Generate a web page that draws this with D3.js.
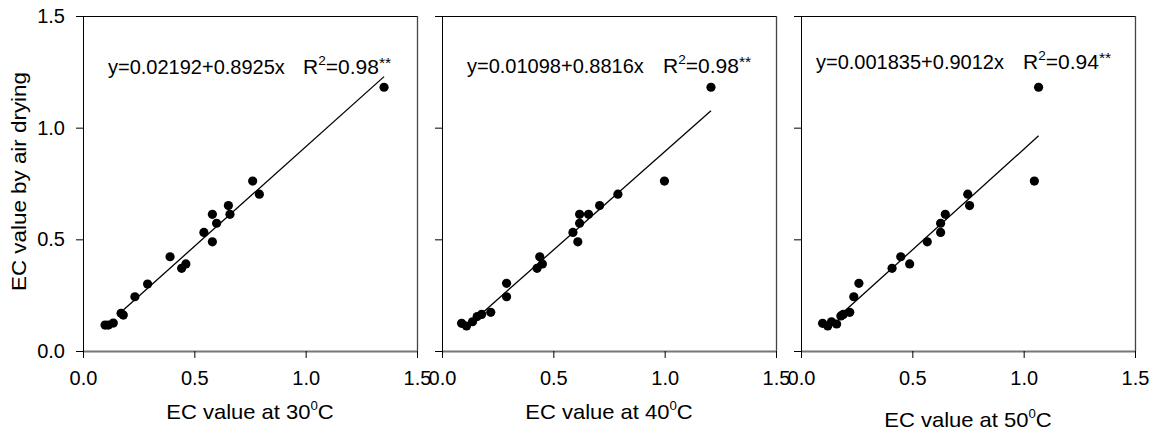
<!DOCTYPE html>
<html><head><meta charset="utf-8">
<script src="https://cdn.jsdelivr.net/npm/d3@7"></script>
<style>
html,body{margin:0;padding:0;background:#fff;}
text{font-family:"Liberation Sans",Arial,sans-serif;fill:#000;}
</style></head>
<body><svg id="chart" width="1158" height="441"></svg>
<script>
// ---- data ----
const xTicks = [0.0, 0.5, 1.0, 1.5];
const yTicks = [0.0, 0.5, 1.0, 1.5];
const tickLabels = ["0.0", "0.5", "1.0", "1.5"];
const temps = ["30", "40", "50"];
const yTitle = "EC value by air drying";

const x30 = [0.099,0.114,0.136,0.171,0.181,0.233,0.29,0.391,0.443,0.462,0.543,0.581,0.581,0.60,0.653,0.66,0.762,0.792,1.352];
const y30 = [0.116,0.116,0.125,0.169,0.161,0.243,0.30,0.422,0.370,0.390,0.531,0.612,0.489,0.572,0.651,0.612,0.761,0.702,1.181];

const x40 = [0.088,0.11,0.137,0.158,0.178,0.219,0.29,0.29,0.427,0.439,0.451,0.588,0.61,0.618,0.618,0.658,0.708,0.79,0.999,1.208];
const y40 = [0.124,0.112,0.131,0.154,0.164,0.173,0.303,0.243,0.370,0.422,0.390,0.531,0.489,0.572,0.612,0.612,0.651,0.702,0.761,1.181];

const x50 = [0.097,0.12,0.137,0.16,0.179,0.19,0.219,0.237,0.26,0.409,0.448,0.488,0.567,0.627,0.627,0.648,0.749,0.757,1.048,1.067];
const y50 = [0.124,0.112,0.131,0.121,0.157,0.164,0.173,0.243,0.303,0.370,0.422,0.390,0.489,0.531,0.572,0.612,0.702,0.651,0.761,1.181];

const intercepts = [0.02192, 0.01098, 0.001835];
const slopes = [0.8925, 0.8816, 0.9012];
const fitStart = [0.18, 0.19, 0.19];
const eqIntercepts = ["0.02192", "0.01098", "0.001835"];
const eqSlopes = ["0.8925", "0.8816", "0.9012"];
const r2Labels = ["0.98", "0.98", "0.94"];

const panelData = [
  {xs: x30, ys: y30}, {xs: x40, ys: y40}, {xs: x50, ys: y50}
];

// ---- layout ----
const svg = d3.select("#chart");
const panelLeft = [83, 442, 801];
const panelW = 334, plotTop = 16, plotBottom = 351;
const eqOffset = [25, 25, 15];
const rOffset = [220, 221, 222];
const eqBase = [74, 73, 69];
const xTitleBase = [419, 419, 427];
const SX = 1.1;

const y = d3.scaleLinear().domain([0, 1.5]).range([plotBottom, plotTop]);

panelData.forEach((pd, i) => {
  const L = panelLeft[i];
  const x = d3.scaleLinear().domain([0, 1.5]).range([L, L + panelW]);
  const g = svg.append("g");

  // frame: top and right
  g.append("line").attr("x1", L).attr("x2", L + panelW).attr("y1", plotTop + 0.5).attr("y2", plotTop + 0.5)
    .attr("stroke", "#000").attr("stroke-width", 1);
  g.append("line").attr("x1", L + panelW + 0.5).attr("x2", L + panelW + 0.5).attr("y1", plotTop).attr("y2", plotBottom)
    .attr("stroke", "#444").attr("stroke-width", 1.3);

  // x axis
  const xa = g.append("g").attr("transform", `translate(0,${plotBottom})`)
    .call(d3.axisBottom(x).tickValues(xTicks).tickFormat((d, k) => tickLabels[k]).tickSize(7).tickSizeOuter(0).tickPadding(13));
  xa.select(".domain").attr("stroke", "#777").attr("stroke-width", 2);
  xa.selectAll(".tick line").attr("stroke", "#000");
  xa.selectAll("text").attr("font-size", 20).attr("font-family", "Liberation Sans");

  // y axis
  const ya = g.append("g").attr("transform", `translate(${L},0)`)
    .call(d3.axisLeft(y).tickValues(yTicks).tickFormat((d, k) => i === 0 ? tickLabels[k] : "").tickSize(7).tickSizeOuter(0).tickPadding(11));
  ya.select(".domain").attr("stroke", "#000").attr("stroke-width", 1);
  ya.selectAll(".tick line").attr("stroke", "#000");
  ya.selectAll("text").attr("font-size", 20).attr("font-family", "Liberation Sans");

  // regression line
  const x0 = fitStart[i], x1 = d3.max(pd.xs);
  g.append("line")
    .attr("x1", x(x0)).attr("y1", y(intercepts[i] + slopes[i] * x0))
    .attr("x2", x(x1)).attr("y2", y(intercepts[i] + slopes[i] * x1))
    .attr("stroke", "#000").attr("stroke-width", 1.3);

  // points
  g.selectAll("circle.pt").data(pd.xs.map((v, k) => [v, pd.ys[k]])).enter()
    .append("circle").attr("class", "pt")
    .attr("cx", d => x(d[0])).attr("cy", d => y(d[1])).attr("r", 4.6).attr("fill", "#000");

  // equation
  g.append("text").attr("x", L + eqOffset[i]).attr("y", eqBase[i]).attr("font-size", 20)
    .text(`y=${eqIntercepts[i]}+${eqSlopes[i]}x`);
  const r = g.append("text").attr("transform", `translate(${L + rOffset[i]},${eqBase[i]}) scale(1.05,1)`).attr("font-size", 20);
  r.append("tspan").text("R");
  r.append("tspan").attr("font-size", 13).attr("dy", -9).text("2");
  r.append("tspan").attr("dy", 9).text("=" + r2Labels[i]);
  r.append("tspan").attr("font-size", 15).attr("dy", -6).text("**");

  // x title
  const t = g.append("text").attr("transform", `translate(${L + panelW / 2},${xTitleBase[i]}) scale(${SX},1)`)
    .attr("font-size", 20).attr("text-anchor", "middle");
  t.append("tspan").text(`EC value at ${temps[i]}`);
  t.append("tspan").attr("font-size", 12).attr("dy", -9).text("0");
  t.append("tspan").attr("dy", 9).text("C");
});

svg.append("text").attr("transform", `translate(26,${(plotTop + plotBottom) / 2 - 2}) rotate(-90) scale(1.12,1)`)
  .attr("text-anchor", "middle").attr("font-size", 20).text(yTitle);
</script></body></html>
